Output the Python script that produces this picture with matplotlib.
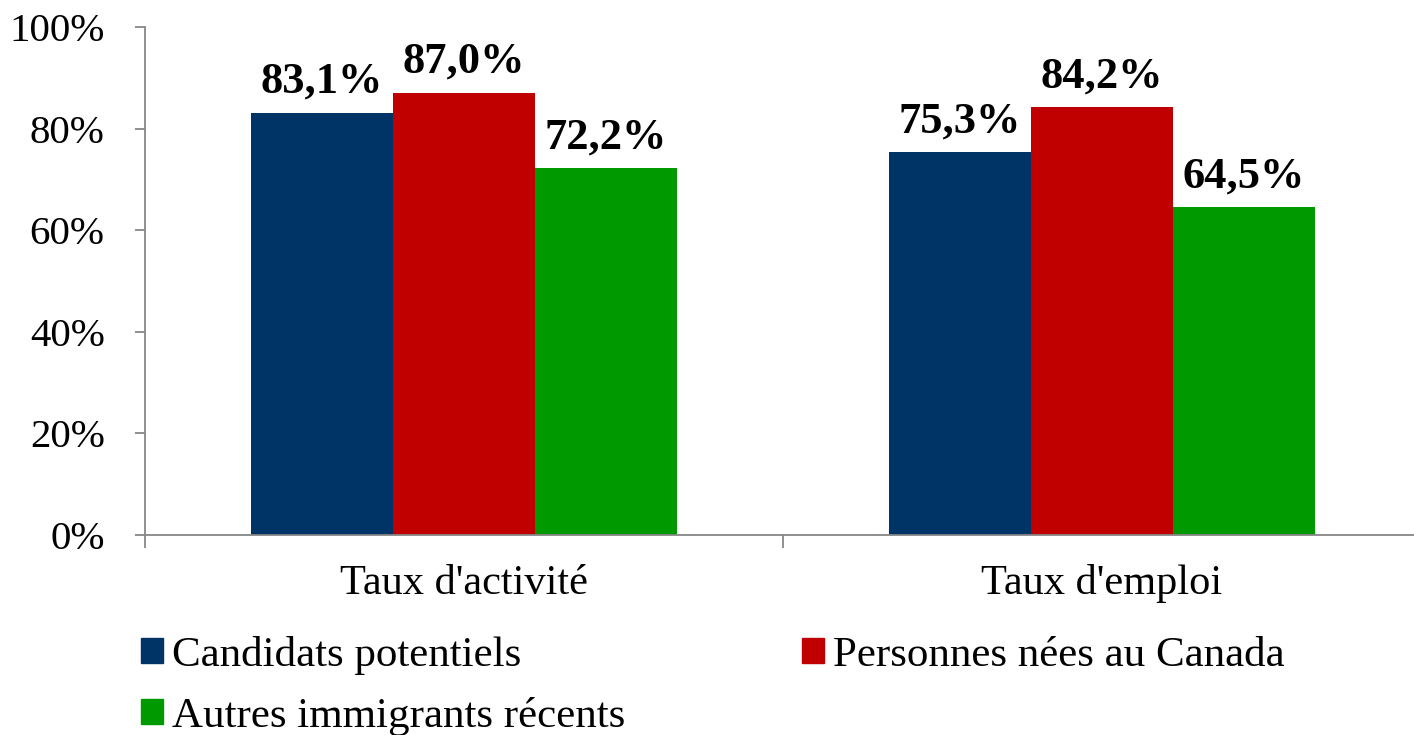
import numpy as np
import matplotlib
matplotlib.use("Agg")
import matplotlib.pyplot as plt
from matplotlib.patches import Patch
from matplotlib.ticker import FuncFormatter

plt.rcParams['font.family'] = ['Liberation Serif', 'DejaVu Serif']

# data
categories = ["Taux d'activité", "Taux d'emploi"]
series_names = ["Candidats potentiels", "Personnes nées au Canada", "Autres immigrants récents"]
candidats = [83.1, 75.3]
nes_canada = [87.0, 84.2]
autres = [72.2, 64.5]
colors = ["#003366", "#C00000", "#009A00"]

fig = plt.figure(figsize=(14.14, 7.35), dpi=100)
ax = fig.add_axes([145 / 1414, 200 / 735, 1276 / 1414, 508 / 735])

x = np.arange(len(categories))
width = 0.2226
series = [candidats, nes_canada, autres]
for i, (vals, col) in enumerate(zip(series, colors)):
    b = ax.bar(x + (i - 1) * width, vals, width, color=col, label=series_names[i])
    for rect, v in zip(b, vals):
        ax.annotate(f"{v:.1f}".replace('.', ',') + '%',
                    (rect.get_x() + rect.get_width() / 2, v),
                    xytext=(0, 8), textcoords='offset points',
                    ha='center', va='bottom', fontsize=32, fontweight='bold')

ax.set_xlim(-0.5, 1.5)
ax.set_ylim(0, 100)
ax.set_yticks(np.arange(0, 101, 20))
ax.yaxis.set_major_formatter(FuncFormatter(lambda v, p: f"{int(v)}%"))
ax.set_xticks(x)
ax.set_xticklabels(categories)
ax.set_xticks([-0.5, 0.5, 1.5], minor=True)

for s in ['top', 'right']:
    ax.spines[s].set_visible(False)
for s in ['left', 'bottom']:
    ax.spines[s].set_color('#878787')
    ax.spines[s].set_linewidth(1.3)

ax.tick_params(axis='y', length=7, width=1.3, color='#878787', labelsize=29.5, pad=22)
ax.tick_params(axis='x', which='major', length=0, labelsize=30.5, pad=21)
ax.tick_params(axis='x', which='minor', length=9, width=1.3, color='#878787')

handles = [Patch(color=colors[0]), Patch(color=colors[2]), Patch(color=colors[1])]
labels = [series_names[0], series_names[2], series_names[1]]
fig.legend(handles, labels, ncol=2, loc='upper left',
           bbox_to_anchor=(141 / 1414, 1 - 636 / 735), frameon=False,
           fontsize=31, handlelength=0.52, handleheight=0.52,
           handletextpad=0.2, columnspacing=4.1, labelspacing=0.5,
           borderpad=0, borderaxespad=0)

fig.savefig("out.png", dpi=100)
